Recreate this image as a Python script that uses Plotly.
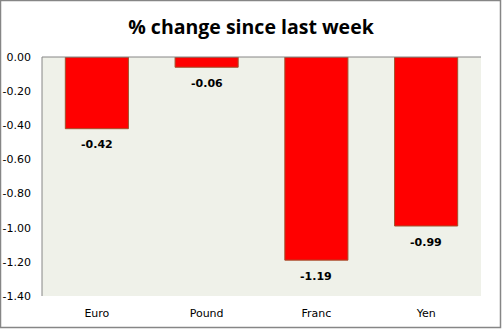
import plotly.graph_objects as go

categories = ["Euro", "Pound", "Franc", "Yen"]
values = [-0.42, -0.06, -1.19, -0.99]
tick_vals = [0, -0.2, -0.4, -0.6, -0.8, -1.0, -1.2, -1.4]
tick_text = ["0.00", "-0.20", "-0.40", "-0.60", "-0.80", "-1.00", "-1.20", "-1.40"]

W, H = 502, 329
L, R, T, B = 42, 21, 57, 33
pw, ph = W - L - R, H - T - B

fig = go.Figure(go.Bar(
    x=categories, y=values,
    marker=dict(color="#FF0000", line=dict(color="#A0522D", width=1)),
    width=0.575,
    hoverinfo="x+y",
))

annotations = [
    dict(x=c, y=v, xref="x", yref="y", text=f"<b>{v:.2f}</b>", showarrow=False,
         yshift=-16, yanchor="middle",
         font=dict(family="DejaVu Sans", size=11, color="#000000"))
    for c, v in zip(categories, values)
]

fig.update_layout(
    width=W, height=H,
    margin=dict(l=L, r=R, t=T, b=B, autoexpand=False),
    paper_bgcolor="white",
    plot_bgcolor="#EFF1E9",
    title=dict(text="<b>% change since last week</b>", x=0.5, xanchor="center",
               y=1 - 27 / H, yanchor="middle",
               font=dict(family="Open Sans", size=19.5, color="#000000")),
    showlegend=False,
    annotations=annotations,
    xaxis=dict(showgrid=False, showline=False, ticks="", zeroline=False,
               ticklabelstandoff=9, automargin=False,
               tickfont=dict(family="DejaVu Sans", size=11, color="#000000")),
    yaxis=dict(range=[-1.4, 0], tickvals=tick_vals, ticktext=tick_text,
               showgrid=False, zeroline=False, showline=False, ticks="",
               ticklabelstandoff=10, automargin=False,
               tickfont=dict(family="DejaVu Sans", size=11, color="#000000")),
    shapes=[
        dict(type="line", xref="paper", yref="paper", x0=0, x1=0, y0=0, y1=1,
             line=dict(color="#868686", width=1)),
        dict(type="line", xref="paper", yref="paper", x0=0, x1=1, y0=1, y1=1,
             line=dict(color="#868686", width=1)),
        dict(type="rect", xref="paper", yref="paper",
             x0=-(L - 0.5) / pw, x1=1 + (R - 1.5) / pw,
             y0=-(B - 1.5) / ph, y1=1 + (T - 0.5) / ph,
             line=dict(color="#868686", width=1.5)),
    ],
)

fig.write_html("out.html")
